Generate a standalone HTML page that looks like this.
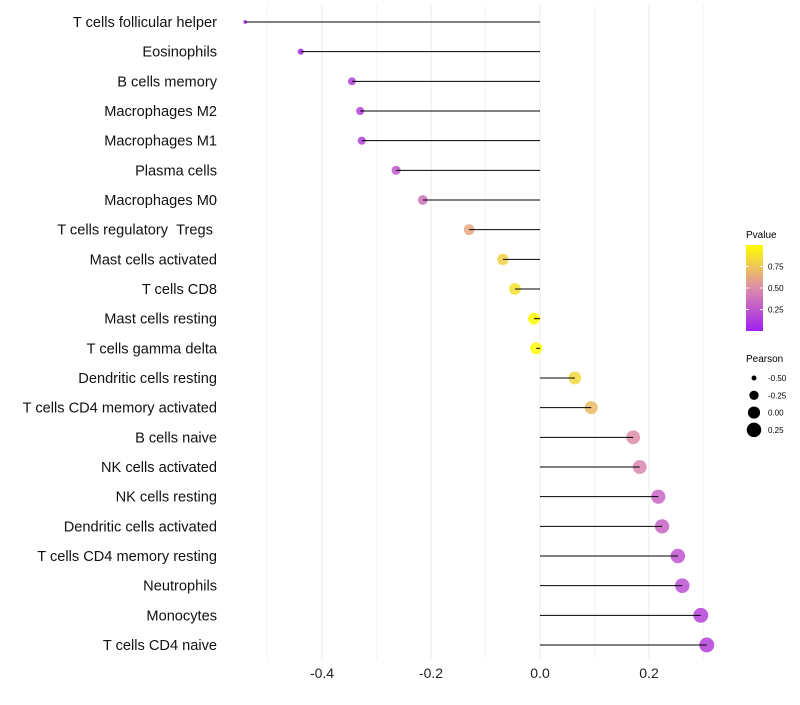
<!DOCTYPE html>
<html><head><meta charset="utf-8"><style>
body{margin:0;background:#fff;font-family:"Liberation Sans",sans-serif}
</style></head><body>
<svg id="c" width="800" height="700" xmlns="http://www.w3.org/2000/svg"></svg>
<script>
const categories=["T cells follicular helper","Eosinophils","B cells memory","Macrophages M2","Macrophages M1","Plasma cells","Macrophages M0","T cells regulatory\u00a0\u00a0Tregs\u00a0","Mast cells activated","T cells CD8","Mast cells resting","T cells gamma delta","Dendritic cells resting","T cells CD4 memory activated","B cells naive","NK cells activated","NK cells resting","Dendritic cells activated","T cells CD4 memory resting","Neutrophils","Monocytes","T cells CD4 naive"];
const pearson=[-0.541,-0.439,-0.345,-0.330,-0.327,-0.264,-0.215,-0.130,-0.068,-0.046,-0.011,-0.007,0.064,0.094,0.171,0.183,0.217,0.224,0.253,0.261,0.295,0.306];
const pvalue=[0.03,0.06,0.14,0.15,0.15,0.25,0.38,0.62,0.8,0.86,0.98,0.98,0.82,0.7,0.5,0.47,0.32,0.3,0.24,0.22,0.16,0.15];
const xTicks=[-0.4,-0.2,0.0,0.2];
const xTickLabels=["-0.4","-0.2","0.0","0.2"];
const pTicks=[0.25,0.5,0.75];
const sizeTicks=[-0.5,-0.25,0,0.25];
const sizeLabels=["-0.50","-0.25","0.00","0.25"];

const svg=document.getElementById('c');const NS="http://www.w3.org/2000/svg";
function el(t,a,p){const e=document.createElementNS(NS,t);for(const k in a)e.setAttribute(k,a[k]);(p||svg).appendChild(e);return e;}
const x=v=>540+v*545;
const y=i=>22+i*(623/21);
const r=v=>Math.sqrt(Math.max(1.5,37+v*62));
function lerp(a,b,t){return a.map((c,i)=>Math.round(c+(b[i]-c)*t));}
function col(p){const lo=[160,32,240],mid=[221,140,170],hi=[255,255,0];const c=p<0.5?lerp(lo,mid,p/0.5):lerp(mid,hi,(p-0.5)/0.5);return `rgb(${c})`;}
for(let v=-0.5;v<=0.31;v+=0.1){const g=el('line',{x1:x(v),x2:x(v),y1:5,y2:660,stroke:'#ebebeb','stroke-width':Math.abs(Math.round(v*10))%2===0?1:0.5});
}
xTicks.forEach((v,i)=>{const t=el('text',{x:x(v),y:678,'text-anchor':'middle','font-size':14,fill:'#222'});t.textContent=xTickLabels[i];
});
categories.forEach((c,i)=>{
const t=el('text',{x:217,y:y(i)+5,'text-anchor':'end','font-size':14.6,fill:'#111'});t.textContent=c;

const d=el('circle',{cx:x(pearson[i]),cy:y(i),r:r(pearson[i]),fill:col(pvalue[i]),'fill-opacity':0.85});

const l=el('line',{x1:x(0),x2:x(pearson[i]),y1:y(i),y2:y(i),stroke:'#000','stroke-width':1});

});
const t1=el('text',{x:746,y:238,'font-size':10});t1.textContent="Pvalue";

const defs=el('defs',{});const lg=el('linearGradient',{id:'g',x1:0,y1:1,x2:0,y2:0},defs);
[0,0.25,0.5,0.75,1].forEach(s=>el('stop',{offset:s,'stop-color':col(s)},lg));
const bar=el('rect',{x:746,y:245,width:17,height:86,fill:'url(#g)'});

pTicks.forEach(p=>{const yy=331-p*86;el('line',{x1:746,x2:749,y1:yy,y2:yy,stroke:'#fff'});el('line',{x1:760,x2:763,y1:yy,y2:yy,stroke:'#fff'});
const t=el('text',{x:768,y:yy+3,'font-size':8});t.textContent=p.toFixed(2);
});
const t2=el('text',{x:746,y:362,'font-size':10});t2.textContent="Pearson";

sizeTicks.forEach((s,i)=>{const yy=378+i*17.3;const c=el('circle',{cx:754,cy:yy,r:r(s),fill:'#000'});

const t=el('text',{x:768,y:yy+3,'font-size':8});t.textContent=sizeLabels[i];
});
</script>
</body></html>
